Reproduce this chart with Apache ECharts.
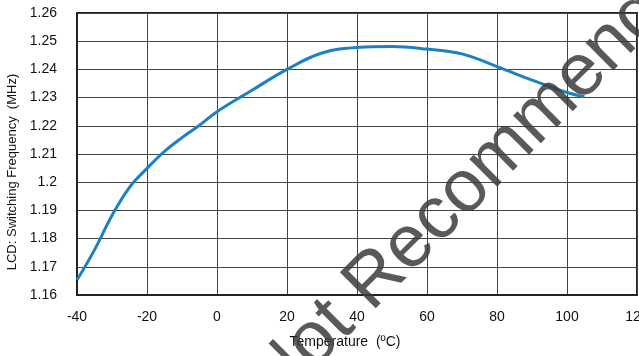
<!DOCTYPE html>
<html>
<head>
<meta charset="utf-8">
<script src="https://cdn.jsdelivr.net/npm/echarts@6/dist/echarts.min.js"></script>
<style>html,body{margin:0;padding:0;background:#fff}#c{width:639px;height:356px}</style>
</head>
<body>
<div id="c"></div>
<script>
const temperatures = [-40, -35, -30, -25, -20, -15, -10, -5, 0, 10, 20, 30, 40, 50, 60, 70, 80, 90, 100, 105];
const frequencies = [1.1653, 1.1760, 1.1882, 1.1982, 1.2049, 1.2109, 1.2158, 1.2202, 1.2250, 1.2326, 1.2400, 1.2458, 1.2478, 1.2481, 1.2472, 1.2455, 1.2410, 1.2362, 1.2318, 1.2303];
const xTicks = {min: -40, max: 120, interval: 20};
const yTicks = {min: 1.16, max: 1.26, interval: 0.01};
const xName = 'Temperature  (ºC)';
const yName = 'LCD: Switching Frequency  (MHz)';
const watermark = 'Not Recommended for New Designs';

const font = '"Liberation Sans", Arial, sans-serif';
const chart = echarts.init(document.getElementById('c'));
chart.setOption({
  animation: false,
  grid: {left: 77, top: 13, right: 2, bottom: 61, show: true, borderColor: '#222', borderWidth: 2,
    containLabel: false, outerBoundsMode: 'none'},
  xAxis: {
    type: 'value', min: xTicks.min, max: xTicks.max, interval: xTicks.interval,
    name: xName, nameLocation: 'middle', nameGap: 40,
    nameTextStyle: {color: '#111', fontSize: 14, fontFamily: font, padding: [0, 24, 0, 0]},
    axisLine: {show: true, onZero: false, lineStyle: {color: '#222', width: 2}},
    axisTick: {show: false},
    axisLabel: {color: '#111', fontSize: 14, fontFamily: font, margin: 15},
    splitLine: {show: true, lineStyle: {color: '#444', width: 1}}
  },
  yAxis: {
    type: 'value', min: yTicks.min, max: yTicks.max, interval: yTicks.interval,
    name: yName, nameLocation: 'middle', nameGap: 56, nameRotate: 90,
    nameTextStyle: {color: '#111', fontSize: 13, fontFamily: font, padding: [0, 36, 0, 0]},
    axisLine: {show: true, onZero: false, lineStyle: {color: '#222', width: 2}},
    axisTick: {show: false},
    axisLabel: {color: '#111', fontSize: 14, fontFamily: font, margin: 20,
      formatter: v => String(parseFloat(v.toFixed(2)))},
    splitLine: {show: true, lineStyle: {color: '#444', width: 1}}
  },
  series: [{
    type: 'line', smooth: 0.4, showSymbol: false,
    data: temperatures.map((t, i) => [t, frequencies[i]]),
    lineStyle: {color: '#1b80c4', width: 3}
  }],
  graphic: [{
    type: 'text', x: 261, y: 394, rotation: Math.PI / 4, z: 100,
    style: {text: watermark, fill: 'rgba(60,60,60,0.85)', font: '74px "Liberation Sans", Arial, sans-serif',
      align: 'left', verticalAlign: 'middle'}
  }]
});
</script>
</body>
</html>
